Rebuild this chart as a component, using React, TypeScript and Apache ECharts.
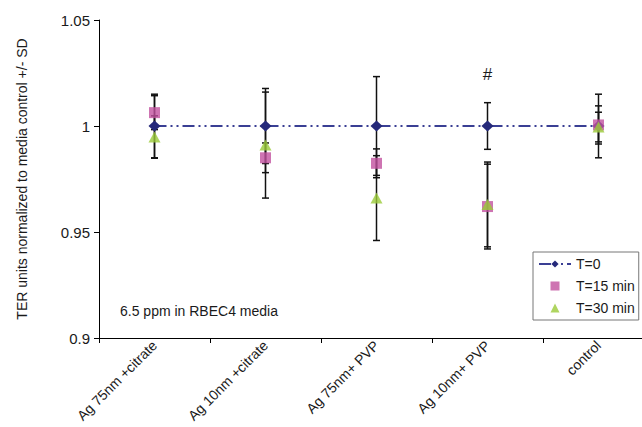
import React, { useEffect, useRef } from "react";
import * as echarts from "echarts";

const categories = ["Ag 75nm +citrate", "Ag 10nm +citrate", "Ag 75nm+ PVP", "Ag 10nm+ PVP", "control"];
const seriesNames = ["T=0", "T=15 min", "T=30 min"];
const t0 = [1, 1, 1, 1, 1];
const t0Sd = [0.015, 0.0177, 0.0233, 0.011, 0.015];
const t15 = [1.0063, 0.985, 0.9824, 0.962, 1.0005];
const t15Sd = [0.008, 0.007, 0.0068, 0.02, 0.009];
const t30 = [0.9948, 0.991, 0.966, 0.963, 0.9995];
const t30Sd = [0.01, 0.025, 0.02, 0.02, 0.007];
const yTicks = { min: 0.9, max: 1.05, interval: 0.05 };
const noteText = "6.5 ppm in RBEC4 media";
const markText = "#";
const markCategory = 3;

const FONT = "Liberation Sans";

function errData(vals: number[], sds: number[]) {
  return vals.map((v, i) => [i, v - sds[i], v + sds[i]]);
}

function renderErr(params: any, api: any) {
  const x = api.value(0);
  const lo = api.coord([x, api.value(1)]);
  const hi = api.coord([x, api.value(2)]);
  const w = 3.5;
  const style = { stroke: "#111", lineWidth: 1.5 };
  return {
    type: "group",
    children: [
      { type: "line", shape: { x1: lo[0], y1: lo[1], x2: hi[0], y2: hi[1] }, style },
      { type: "line", shape: { x1: lo[0] - w, y1: lo[1], x2: lo[0] + w, y2: lo[1] }, style },
      { type: "line", shape: { x1: hi[0] - w, y1: hi[1], x2: hi[0] + w, y2: hi[1] }, style },
    ],
  };
}

export default function App() {
  const ref = useRef<HTMLDivElement>(null);
  useEffect(() => {
    if (!ref.current) return;
    const chart = echarts.init(ref.current, null, { renderer: "svg" });
    const errSeries = [
      errData(t0, t0Sd),
      errData(t15, t15Sd),
      errData(t30, t30Sd),
    ].map((d) => ({
      type: "custom",
      coordinateSystem: "cartesian2d",
      renderItem: renderErr,
      data: d,
      encode: { x: 0, y: [1, 2] },
      z: 1,
      silent: true,
      clip: false,
    }));
    chart.setOption({
      animation: false,
      backgroundColor: "#fff",
      textStyle: { fontFamily: FONT },
      grid: { left: 99, width: 555, top: 20, bottom: 89, outerBoundsMode: "none", containLabel: false },
      xAxis: {
        type: "category",
        data: categories,
        boundaryGap: true,
        axisLine: { lineStyle: { color: "#000", width: 1 } },
        axisTick: { show: true, length: 5, lineStyle: { color: "#000" } },
        axisLabel: { rotate: 45, interval: 0, fontSize: 14, color: "#1a1a1a", fontFamily: FONT, margin: 5 },
        splitLine: { show: false },
      },
      yAxis: {
        type: "value",
        min: yTicks.min,
        max: yTicks.max,
        interval: yTicks.interval,
        name: "TER units normalized to media control +/- SD",
        nameLocation: "middle",
        nameGap: 70,
        nameTextStyle: { fontSize: 14, color: "#1a1a1a", fontFamily: FONT },
        axisLine: { show: true, lineStyle: { color: "#000", width: 1 } },
        axisTick: { show: true, length: 5, lineStyle: { color: "#000" } },
        axisLabel: { fontSize: 15, color: "#1a1a1a", fontFamily: FONT, margin: 9 },
        splitLine: { show: false },
      },
      legend: {
        orient: "vertical",
        left: 533,
        top: 252,
        data: [
          { name: seriesNames[0] },
          { name: seriesNames[1], icon: "path://M0,0L10,0L10,10L0,10Z" },
          { name: seriesNames[2], icon: "path://M5,0L10,10L0,10Z" },
        ],
        itemWidth: 32,
        itemHeight: 9,
        itemGap: 8,
        padding: [5, 4, 5, 5],
        borderColor: "#777",
        borderWidth: 1,
        backgroundColor: "#fff",
        textStyle: { fontSize: 14, color: "#1a1a1a", fontFamily: FONT, lineHeight: 14 },
      },
      graphic: [
        {
          type: "text",
          left: 120,
          top: 304,
          style: { text: noteText, fontSize: 14, fontFamily: FONT, fill: "#1a1a1a" },
        },
      ],
      series: [
        ...errSeries,
        {
          name: seriesNames[0],
          type: "line",
          data: t0,
          symbol: "diamond",
          symbolSize: [12, 11],
          itemStyle: { color: "#25297a" },
          lineStyle: { color: "#3a3f94", width: 2, type: [12, 4, 2, 4, 2, 4] },
          z: 3,
          markPoint: {
            symbol: "rect",
            symbolSize: 1,
            itemStyle: { color: "transparent" },
            label: {
              show: true,
              formatter: markText,
              fontSize: 17,
              color: "#1a1a1a",
              fontFamily: FONT,
              offset: [0, -52],
            },
            data: [{ coord: [markCategory, t0[markCategory]] }],
          },
        },
        {
          name: seriesNames[1],
          type: "scatter",
          data: t15,
          symbol: "rect",
          symbolSize: 11,
          itemStyle: { color: "#c2519f" },
          z: 4,
        },
        {
          name: seriesNames[2],
          type: "scatter",
          data: t30,
          symbol: "triangle",
          symbolSize: [12, 11],
          itemStyle: { color: "#9bcb38" },
          z: 5,
        },
      ],
    });
    return () => chart.dispose();
  }, []);
  return <div ref={ref} style={{ position: "fixed", left: 0, top: 0, width: 642, height: 427 }} />;
}
